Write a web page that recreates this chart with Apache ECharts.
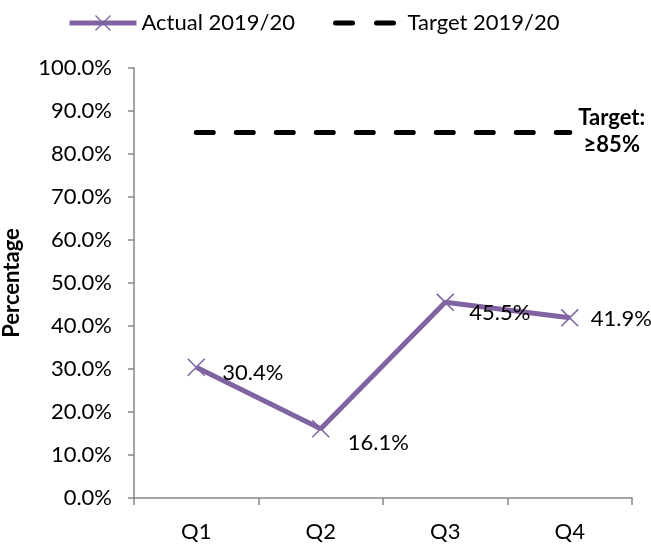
<!DOCTYPE html>
<html><head><meta charset="utf-8">
<script src="https://cdn.jsdelivr.net/npm/echarts@6/dist/echarts.min.js"></script>
<style>html,body{margin:0;padding:0;background:#fff}#c{width:651px;height:545px}</style>
</head><body><div id="c"></div>
<script>
var categories = ['Q1', 'Q2', 'Q3', 'Q4'];
var actual = [30.4, 16.1, 45.5, 41.9];
var target = [85, 85, 85, 85];
var yTicks = [0, 10, 20, 30, 40, 50, 60, 70, 80, 90, 100];
var seriesNames = ['Actual 2019/20', 'Target 2019/20'];
var targetLabel = 'Target:\n≥85%';

var FONT = 'Lato';
var FS = 22;
var purple = '#8064A2';
var xPath = 'path://M0,0.6L0.6,0L10,9.4L9.4,10Z M9.4,0L10,0.6L0.6,10L0,9.4Z';
var labelOffsets = [[17, 6], [18, 14], [15, 11], [12, 1]];

var chart = echarts.init(document.getElementById('c'), null, {renderer: 'canvas'});
chart.setOption({
  animation: false,
  textStyle: {fontFamily: FONT},
  grid: {left: 134, right: 19, top: 68, bottom: 47, containLabel: false, outerBoundsMode: 'none'},
  legend: {
    top: 7, left: 62,
    itemWidth: 67, itemHeight: 20, itemGap: 38,
    textStyle: {fontFamily: FONT, fontSize: FS, color: '#000'},
    data: [
      {name: seriesNames[0], lineStyle: {width: 5, color: purple}},
      {name: seriesNames[1], lineStyle: {width: 5, color: '#000', type: [17, 24], cap: 'round'},
        itemStyle: {opacity: 0}}
    ]
  },
  xAxis: {
    type: 'category', data: categories, boundaryGap: true,
    axisLine: {lineStyle: {color: '#868686', width: 1.5}},
    axisTick: {show: true, length: 7, lineStyle: {color: '#868686', width: 1.5}},
    axisLabel: {fontFamily: FONT, fontSize: FS, color: '#000', margin: 23}
  },
  yAxis: {
    type: 'value', min: yTicks[0], max: yTicks[yTicks.length - 1], interval: yTicks[1] - yTicks[0],
    name: 'Percentage', nameLocation: 'middle', nameGap: 111, nameRotate: 90,
    nameTextStyle: {fontFamily: FONT, fontSize: FS, fontWeight: 'bold', color: '#000'},
    axisLine: {show: true, lineStyle: {color: '#868686', width: 1.5}},
    axisTick: {show: true, length: 6, lineStyle: {color: '#868686', width: 1.5}},
    splitLine: {show: false},
    axisLabel: {fontFamily: FONT, fontSize: FS, color: '#000', margin: 22,
      formatter: function (v) { return v.toFixed(1) + '%'; }}
  },
  series: [
    {
      name: seriesNames[0], type: 'line',
      data: actual.map(function (v, i) {
        return {value: v, label: {offset: labelOffsets[i]}};
      }),
      color: purple,
      lineStyle: {color: purple, width: 5},
      symbol: xPath, symbolSize: 18, symbolKeepAspect: true,
      itemStyle: {color: purple},
      label: {show: true, position: 'right', distance: 0,
        fontFamily: FONT, fontSize: FS, color: '#000',
        formatter: function (p) { return p.value.toFixed(1) + '%'; }},
      z: 3
    },
    {
      name: seriesNames[1], type: 'line',
      data: target,
      color: '#000',
      lineStyle: {color: '#000', width: 5, type: [17, 23], cap: 'round'},
      symbol: 'none',
      itemStyle: {color: '#000'},
      endLabel: {show: true, formatter: targetLabel, fontFamily: FONT, fontSize: FS,
        fontWeight: 'bold', color: '#000', align: 'center', lineHeight: 27,
        distance: 0, offset: [42, -1]},
      z: 2
    }
  ]
});
</script></body></html>
